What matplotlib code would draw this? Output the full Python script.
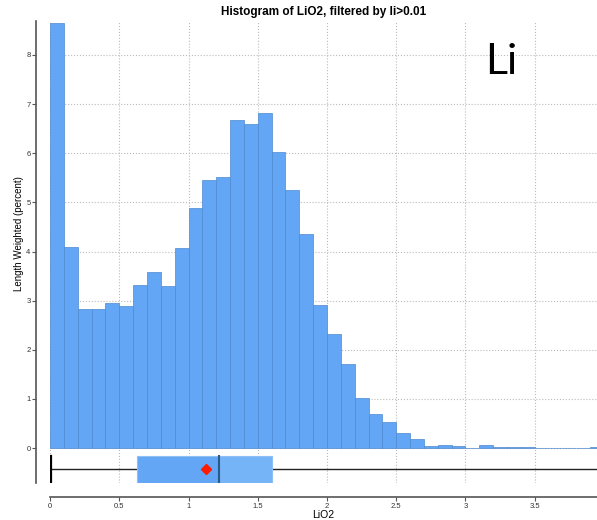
import matplotlib.pyplot as plt
import numpy as np

# 히스토그램 데이터 (bin 폭 0.1)
bin_edges = np.round(np.arange(0, 4.01, 0.1), 2)
heights = [8.65, 4.10, 2.84, 2.83, 2.95, 2.90, 3.31, 3.58, 3.29, 4.07,
           4.88, 5.45, 5.51, 6.68, 6.59, 6.81, 6.02, 5.26, 4.35, 2.92,
           2.33, 1.72, 1.02, 0.69, 0.54, 0.31, 0.19, 0.05, 0.07, 0.05,
           0.00, 0.07, 0.02, 0.02, 0.02, 0.00, 0.00, 0.00, 0.00, 0.02]

# 박스플롯 통계
whisker_lo = 0.01
q1 = 0.626
median = 1.22
mean = 1.126
q3 = 1.60
whisker_hi = 4.2

xticks = [0, 0.5, 1, 1.5, 2, 2.5, 3, 3.5]
xtick_labels = ["0", "0.5", "1", "1.5", "2", "2.5", "3", "3.5"]
yticks = [0, 1, 2, 3, 4, 5, 6, 7, 8]

plt.rcParams['font.family'] = ['Liberation Sans', 'DejaVu Sans']

fig = plt.figure(figsize=(5.97, 5.20), dpi=100)
ax = fig.add_axes([0.0838, 0.0712, 0.9162, 0.8884])

ax.bar(bin_edges[:-1], heights, width=0.1, align='edge',
       color='#62a6f5', edgecolor='#4d8ad0', linewidth=0.5, zorder=2)

# 박스플롯 (히스토그램 아래)
by = -0.435
bh = 0.55
ax.plot([whisker_lo, whisker_hi], [by, by], color='#222222', lw=1.0, zorder=2)
ax.plot([whisker_lo, whisker_lo], [by - bh / 2, by + bh / 2], color='black', lw=1.6, zorder=3)
ax.add_patch(plt.Rectangle((q1, by - bh / 2), median - q1, bh,
                           facecolor='#62a6f5', edgecolor='#8cc0f7', lw=0.8, zorder=3))
ax.add_patch(plt.Rectangle((median, by - bh / 2), q3 - median, bh,
                           facecolor='#75b4f7', edgecolor='#8cc0f7', lw=0.8, zorder=3))
ax.plot([median, median], [by - bh / 2, by + bh / 2], color='#2a5a8a', lw=1.5, zorder=4)
ax.plot(mean, by, marker='D', color='#ff1a00', markersize=5.5, zorder=5)

ax.text(3.26, 7.85, "Li", fontsize=31, family=['Lato', 'DejaVu Sans'],
        fontweight='normal', ha='center', va='center')

ax.set_xlim(0, 3.95)
ax.set_ylim(-0.71, 8.69)
ax.set_xticks(xticks)
ax.set_xticklabels(xtick_labels)
ax.set_yticks(yticks)
ax.tick_params(labelsize=5.5, length=3, color='#555555', labelcolor='#333333')
ax.tick_params(axis='x', pad=1.5)
ax.tick_params(axis='y', pad=1)

ax.grid(True, linestyle=':', color='#bbbbbb', linewidth=0.8, zorder=0)
ax.set_axisbelow(True)

for s in ['top', 'right']:
    ax.spines[s].set_visible(False)
for s in ['left', 'bottom']:
    ax.spines[s].set_position(('outward', 10))
    ax.spines[s].set_color('#555555')
    ax.spines[s].set_linewidth(1.2)

ax.set_xlabel("LiO2", fontsize=7.5, labelpad=0)
ax.set_ylabel("Length Weighted (percent)", fontsize=7)
ax.yaxis.set_label_coords(-0.047, 0.539)
ax.set_title("Histogram of LiO2, filtered by li>0.01", fontsize=8.5,
             fontweight='bold', pad=4)

plt.savefig("out.png", dpi=100)
